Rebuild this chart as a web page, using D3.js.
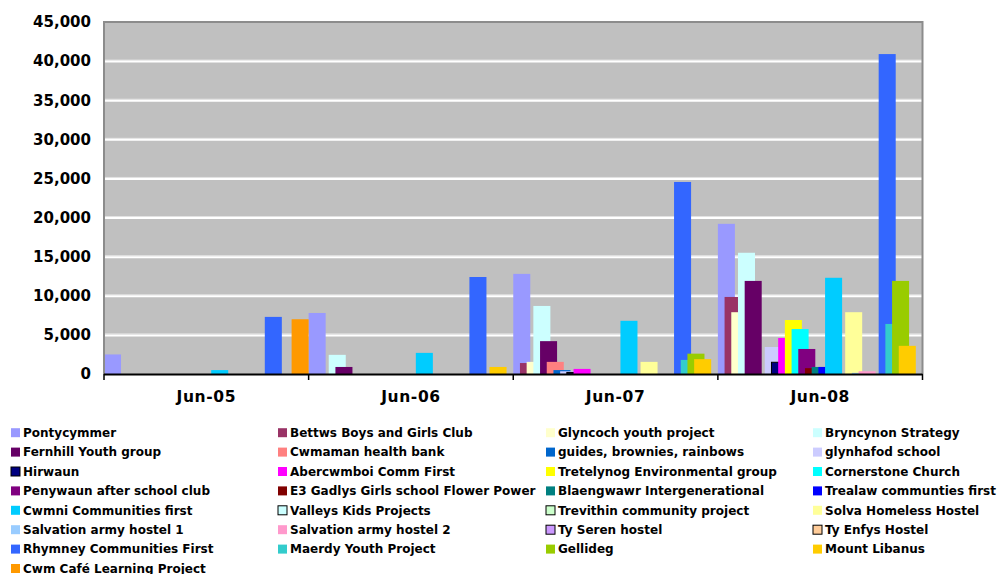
<!DOCTYPE html>
<html>
<head>
<meta charset="utf-8">
<script src="https://cdn.jsdelivr.net/npm/d3@7"></script>
<style>
  html, body { margin: 0; padding: 0; background: #fff; }
  svg { display: block; font-family: "DejaVu Sans", Verdana, sans-serif; font-weight: bold; }
</style>
</head>
<body>
<svg id="chart" width="1001" height="574"></svg>
<script>
// Categories (reporting dates)
const categories = ["Jun-05", "Jun-06", "Jun-07", "Jun-08"];

// Projects, in series order
const seriesNames = [
  "Pontycymmer", "Bettws Boys and Girls Club", "Glyncoch youth project", "Bryncynon Strategy",
  "Fernhill Youth group", "Cwmaman health bank", "guides, brownies, rainbows", "glynhafod school",
  "Hirwaun", "Abercwmboi Comm First", "Tretelynog Environmental group", "Cornerstone Church",
  "Penywaun after school club", "E3 Gadlys Girls school Flower Power", "Blaengwawr Intergenerational", "Trealaw communties first",
  "Cwmni Communities first", "Valleys Kids Projects", "Trevithin community project", "Solva Homeless Hostel",
  "Salvation army hostel 1", "Salvation army hostel 2", "Ty Seren hostel", "Ty Enfys Hostel",
  "Rhymney Communities First", "Maerdy Youth Project", "Gellideg", "Mount Libanus",
  "Cwm Café Learning Project"
];

// Amounts per category, one entry per project (same order as seriesNames)
const jun05 = [2500, 0, 0, 0, 0, 0, 0, 0, 0, 0, 0, 0, 0, 0, 0, 0, 500, 0, 0, 0, 0, 0, 0, 0, 7300, 0, 0, 0, 7000];
const jun06 = [7800, 0, 0, 2450, 900, 0, 0, 0, 0, 0, 0, 0, 0, 0, 0, 0, 2700, 0, 0, 0, 0, 0, 0, 0, 12400, 0, 0, 900, 0];
const jun07 = [12800, 1400, 1550, 8700, 4200, 1550, 500, 350, 200, 650, 0, 0, 0, 0, 0, 0, 6800, 0, 0, 1550, 0, 0, 0, 0, 24550, 1800, 2600, 1900, 0];
const jun08 = [19200, 9850, 7900, 15500, 11900, 0, 0, 3450, 1500, 4600, 6900, 5750, 3200, 750, 900, 900, 12300, 0, 0, 7900, 150, 350, 0, 0, 40900, 6400, 11900, 3600, 0];

// Value axis ticks
const yTicks = [0, 5000, 10000, 15000, 20000, 25000, 30000, 35000, 40000, 45000];

// Series fill colours
const seriesColors = [
  "#9999FF", "#993366", "#FFFFCC", "#CCFFFF",
  "#660066", "#FF8080", "#0066CC", "#CCCCFF",
  "#000080", "#FF00FF", "#FFFF00", "#00FFFF",
  "#800080", "#800000", "#008080", "#0000FF",
  "#00CCFF", "#CCFFFF", "#CCFFCC", "#FFFF99",
  "#99CCFF", "#FF99CC", "#CC99FF", "#FFCC99",
  "#3366FF", "#33CCCC", "#99CC00", "#FFCC00",
  "#FF9900"
];
// Series drawn with a black outline
const outlined = new Set(["Hirwaun", "Valleys Kids Projects", "Trevithin community project", "Ty Seren hostel", "Ty Enfys Hostel"]);

const valuesByCategory = [jun05, jun06, jun07, jun08];

const svg = d3.select("#chart");
const plot = { left: 104, right: 922.5, top: 22, bottom: 374 };

const y = d3.scaleLinear().domain([0, 45000]).range([plot.bottom, plot.top]);
const x0 = d3.scaleBand().domain(categories).range([plot.left, plot.right]).padding(0);
const barW = x0.bandwidth() * 0.0832;
const x1 = d3.scalePoint().domain(seriesNames).range([0, x0.bandwidth() - barW]);
const color = d3.scaleOrdinal().domain(seriesNames).range(seriesColors);

// Plot background
svg.append("rect")
  .attr("x", plot.left).attr("y", plot.top)
  .attr("width", plot.right - plot.left).attr("height", plot.bottom - plot.top)
  .attr("fill", "#C0C0C0");

// Gridlines
const grid = svg.append("g");
yTicks.filter(t => t > 0 && t < 45000).forEach(t => {
  grid.append("line")
    .attr("x1", plot.left).attr("x2", plot.right)
    .attr("y1", y(t) - 1).attr("y2", y(t) - 1)
    .attr("stroke", "#E4E4E4").attr("stroke-width", 1);
  grid.append("line")
    .attr("x1", plot.left).attr("x2", plot.right)
    .attr("y1", y(t) + 0.5).attr("y2", y(t) + 0.5)
    .attr("stroke", "#FFFFFF").attr("stroke-width", 2);
});

// Bars: later series are painted over earlier ones
const bars = [];
seriesNames.forEach((name, si) => {
  categories.forEach((cat, ci) => {
    const v = valuesByCategory[ci][si];
    if (v > 0) bars.push({ name, cat, v });
  });
});
svg.append("g").selectAll("rect")
  .data(bars)
  .join("rect")
  .attr("x", d => x0(d.cat) + x1(d.name))
  .attr("y", d => y(d.v))
  .attr("width", barW)
  .attr("height", d => y(0) - y(d.v))
  .attr("fill", d => color(d.name))
  .attr("stroke", d => outlined.has(d.name) ? "#000" : "none")
  .attr("stroke-width", 1);

// Plot frame (left, top, right)
svg.append("path")
  .attr("d", `M${plot.left},${plot.bottom} V${plot.top} H${plot.right} V${plot.bottom}`)
  .attr("fill", "none").attr("stroke", "#8C8C8C").attr("stroke-width", 2);

// Category axis line and boundary ticks
svg.append("line")
  .attr("x1", plot.left).attr("x2", plot.right)
  .attr("y1", plot.bottom + 0.5).attr("y2", plot.bottom + 0.5)
  .attr("stroke", "#000").attr("stroke-width", 2);
const boundaries = categories.map(c => x0(c)).concat([plot.right]);
svg.append("g").selectAll("line")
  .data(boundaries)
  .join("line")
  .attr("x1", d => d).attr("x2", d => d)
  .attr("y1", plot.bottom).attr("y2", plot.bottom + 6)
  .attr("stroke", "#000").attr("stroke-width", 1.5);

// Category labels
const xAxis = svg.append("g")
  .attr("transform", `translate(0,${plot.bottom})`)
  .call(d3.axisBottom(x0).tickSize(0).tickPadding(17));
xAxis.select(".domain").remove();
xAxis.selectAll("text")
  .attr("font-size", 15.5).attr("letter-spacing", "0.6px")
  .attr("font-family", "DejaVu Sans, Verdana, sans-serif")
  .attr("font-weight", "bold").attr("fill", "#000");

// Value axis labels
const yAxis = svg.append("g")
  .attr("transform", `translate(${plot.left},0)`)
  .call(d3.axisLeft(y).tickValues(yTicks).tickFormat(d3.format(",")).tickSize(0).tickPadding(13));
yAxis.select(".domain").remove();
yAxis.selectAll("text")
  .attr("font-size", 15).attr("font-family", "DejaVu Sans, Verdana, sans-serif")
  .attr("font-weight", "bold").attr("fill", "#000");

// Legend: four columns, filled row by row
const legendCols = [11, 278, 546, 813];
const legendTop = 432.7, legendStep = 19.4;
const legend = svg.append("g").selectAll("g")
  .data(seriesNames)
  .join("g")
  .attr("transform", (d, i) => `translate(${legendCols[i % 4]},${legendTop + Math.floor(i / 4) * legendStep})`);
legend.append("rect")
  .attr("x", 0).attr("y", -4.5).attr("width", 9).attr("height", 9)
  .attr("fill", d => color(d))
  .attr("stroke", d => outlined.has(d) ? "#000" : "none")
  .attr("stroke-width", 1);
legend.append("text")
  .attr("x", 12).attr("dy", "0.36em")
  .attr("font-size", 12).attr("fill", "#000")
  .text(d => d);
</script>
</body>
</html>
